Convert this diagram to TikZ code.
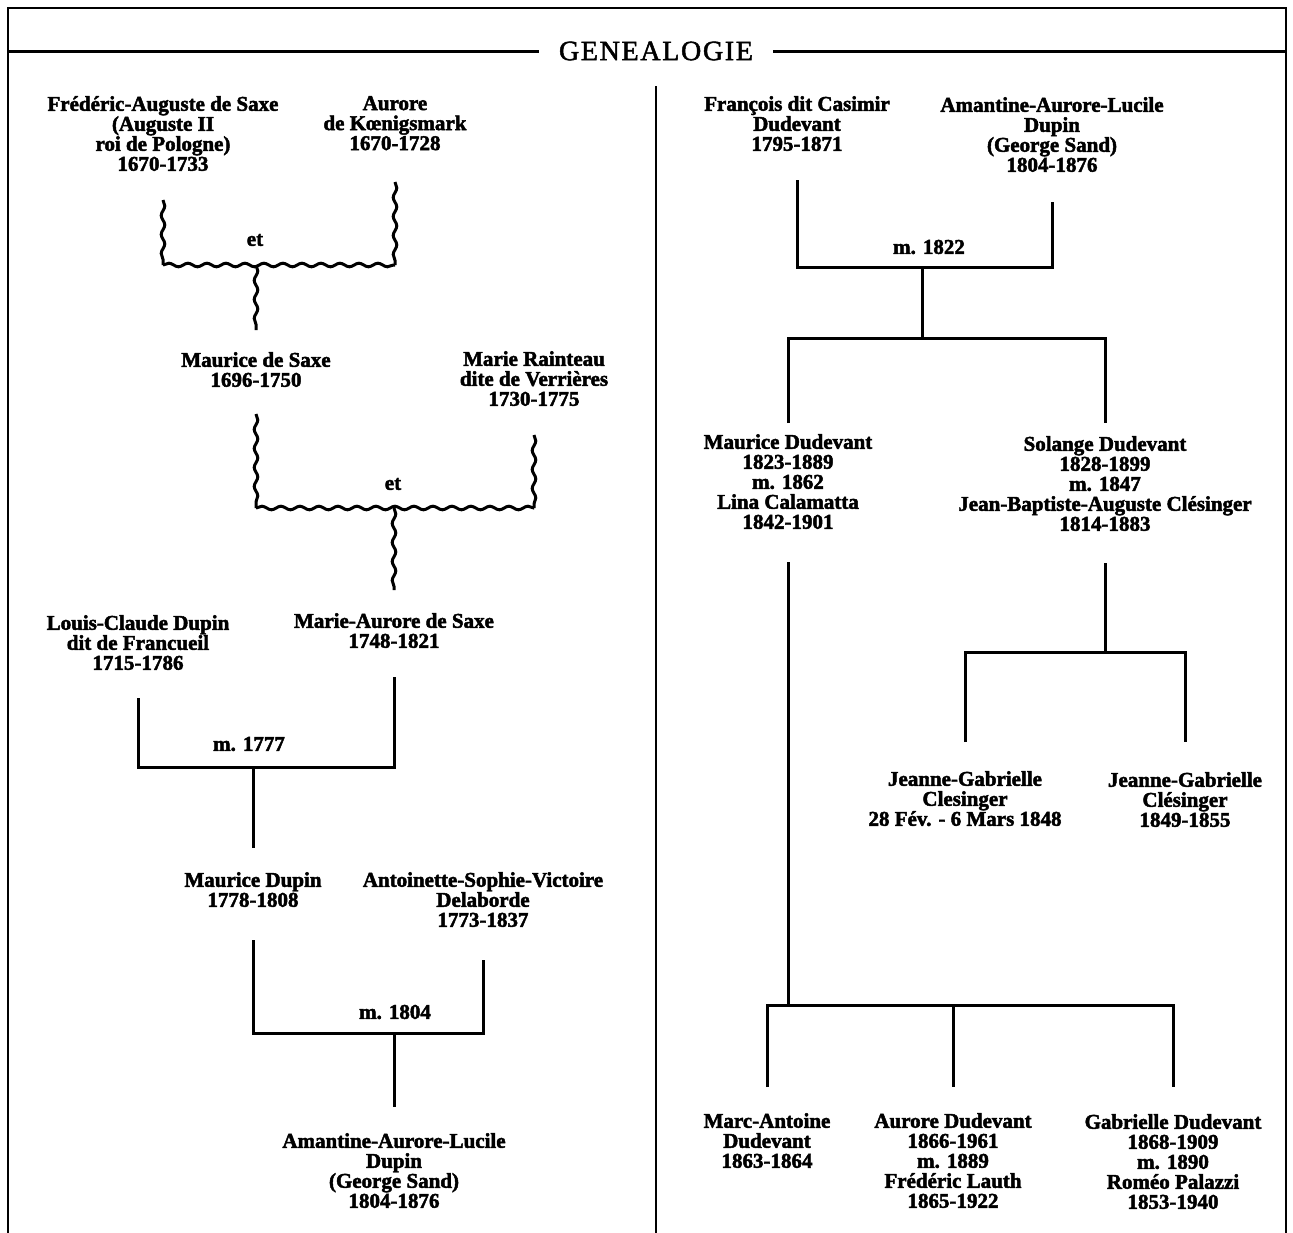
\documentclass[tikz,border=0pt]{standalone}
\usepackage{fontspec}
\setmainfont{Liberation Serif}
\newfontfamily\titlefont[LetterSpace=6, FakeBold=1.8]{Liberation Serif}
\newfontfamily\heavy[BoldFeatures={FakeBold=2.2}]{Liberation Serif}
\usetikzlibrary{decorations.pathmorphing}
\begin{document}
\begin{tikzpicture}[x=1pt,y=-1pt,
  person/.style={font=\heavy\bfseries\fontsize{21}{20}\selectfont, align=center, inner sep=0pt, anchor=north},
  lbl/.style={font=\heavy\bfseries\fontsize{21}{20}\selectfont, inner sep=0pt},
  tree/.style={line width=3pt, line join=miter},
  wavy/.style={line width=3pt, decorate, decoration={snake, segment length=19pt, amplitude=1.8pt}},
  frame/.style={line width=2.6pt},
  headline/.style={line width=3pt}]
\useasboundingbox (0,0) rectangle (1293,1232);
\fill[white] (0,0) rectangle (1293,1232);

% frame, title and divider
\draw[frame] (8,1240) -- (8,8) -- (1286,8) -- (1286,1240);
\node[font=\titlefont\fontsize{28}{30}\selectfont, inner ysep=0pt, inner xsep=20pt] (title) at (656,51) {GENEALOGIE};
\coordinate (hl) at (8,51);
\coordinate (hr) at (1286,51);
\draw[headline] (hl) -- (title.west);
\draw[headline] (title.east) -- (hr);
\coordinate (dtop) at (656,86);
\draw[frame] (dtop) -- (656,1240);

% ---------- left column ----------
\node[person] (fa) at (163,96) {Frédéric-Auguste de Saxe\\(Auguste II\\roi de Pologne)\\1670-1733};
\node[person] (ak) at (395,96) {Aurore\\de Kœnigsmark\\1670-1728};
\node[person] (ms) at (256,352) {Maurice de Saxe\\1696-1750};
\node[person] (mr) at (534,351) {Marie Rainteau\\dite de Verrières\\1730-1775};
\node[person] (lc) at (138,615) {Louis-Claude Dupin\\dit de Francueil\\1715-1786};
\node[person] (mas) at (394,613) {Marie-Aurore de Saxe\\1748-1821};
\node[person] (md) at (253,872) {Maurice Dupin\\1778-1808};
\node[person] (asv) at (483,872) {Antoinette-Sophie-Victoire\\Delaborde\\1773-1837};
\node[person] (aal) at (394,1133) {Amantine-Aurore-Lucile\\Dupin\\(George Sand)\\1804-1876};

% Frédéric-Auguste et Aurore
\coordinate (b1l) at (fa |- 0,265);
\coordinate (b1r) at (ak |- 0,265);
\draw[wavy] (fa |- 0,200) -- (b1l);
\draw[wavy] (b1l) -- (b1r);
\draw[wavy] (ak |- 0,182) -- (b1r);
\draw[wavy] (ms |- b1l) -- (ms |- 0,330);
\node[lbl] (et1) at (255,240) {et};

% Maurice de Saxe et Marie Rainteau
\coordinate (b2l) at (ms |- 0,508);
\coordinate (b2r) at (mr |- 0,508);
\draw[wavy] (ms |- 0,414) -- (b2l);
\draw[wavy] (b2l) -- (b2r);
\draw[wavy] (mr |- 0,435) -- (b2r);
\draw[wavy] (mas |- b2l) -- (mas |- 0,590);
\node[lbl] (et2) at (393,484) {et};

% Louis-Claude Dupin m. Marie-Aurore de Saxe
\draw[tree] (lc |- 0,698) -- (lc |- 0,767) -- (mas |- 0,767) -- (mas |- 0,677);
\draw[tree] (md |- 0,767) -- (md |- 0,848);
\node[lbl] (m1777) at (249,744) {m. 1777};

% Maurice Dupin m. Antoinette-Sophie-Victoire Delaborde
\draw[tree] (md |- 0,940) -- (md |- 0,1033) -- (asv |- 0,1033) -- (asv |- 0,960);
\draw[tree] (aal |- 0,1033) -- (aal |- 0,1107);
\node[lbl] (m1804) at (395,1012) {m. 1804};

% ---------- right column ----------
\node[person] (fc) at (797,96) {François dit Casimir\\Dudevant\\1795-1871};
\node[person] (gs) at (1052,97) {Amantine-Aurore-Lucile\\Dupin\\(George Sand)\\1804-1876};
\node[person] (mdu) at (788,434) {Maurice Dudevant\\1823-1889\\m. 1862\\Lina Calamatta\\1842-1901};
\node[person] (sd) at (1105,436) {Solange Dudevant\\1828-1899\\m. 1847\\Jean-Baptiste-Auguste Clésinger\\1814-1883};
\node[person] (jg1) at (965,771) {Jeanne-Gabrielle\\Clesinger\\28 Fév. - 6 Mars 1848};
\node[person] (jg2) at (1185,772) {Jeanne-Gabrielle\\Clésinger\\1849-1855};
\node[person] (ma) at (767,1113) {Marc-Antoine\\Dudevant\\1863-1864};
\node[person] (ad) at (953,1113) {Aurore Dudevant\\1866-1961\\m. 1889\\Frédéric Lauth\\1865-1922};
\node[person] (gd) at (1173,1114) {Gabrielle Dudevant\\1868-1909\\m. 1890\\Roméo Palazzi\\1853-1940};

% François Casimir Dudevant m. George Sand
\coordinate (j5) at (922,267);
\coordinate (k5) at (922,338);
\draw[tree] (fc |- 0,180) -- (fc |- j5) -- (gs |- j5) -- (gs |- 0,202);
\draw[tree] (j5) -- (k5);
\draw[tree] (mdu |- 0,423) -- (mdu |- k5) -- (sd |- k5) -- (sd |- 0,423);
\node[lbl] (m1822) at (929,247) {m. 1822};

% children of Solange
\coordinate (j6) at (sd |- 0,652);
\draw[tree] (sd |- 0,563) -- (j6);
\draw[tree] (jg1 |- 0,742) -- (jg1 |- j6) -- (jg2 |- j6) -- (jg2 |- 0,742);

% children of Maurice Dudevant
\coordinate (j7) at (mdu |- 0,1005);
\draw[tree] (mdu |- 0,562) -- (j7);
\draw[tree] (ma |- 0,1087) -- (ma |- j7) -- (gd |- j7) -- (gd |- 0,1087);
\draw[tree] (ad |- j7) -- (ad |- 0,1087);
\end{tikzpicture}
\end{document}
